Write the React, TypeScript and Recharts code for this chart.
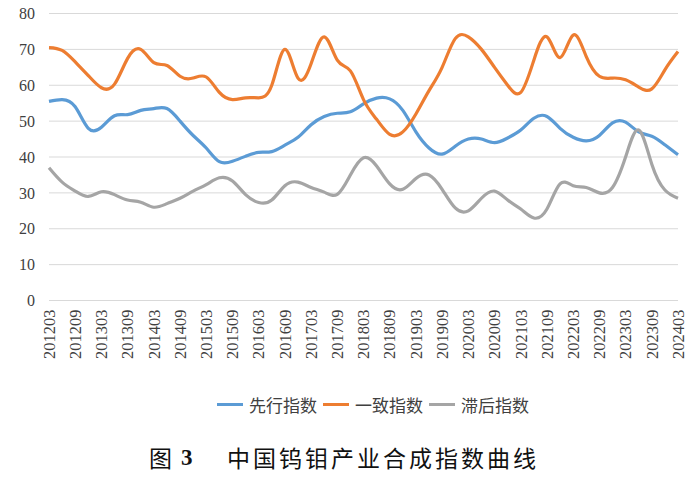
import { LineChart, Line, XAxis, YAxis, CartesianGrid } from 'recharts';

// quarterly points, labels shown every 6 months
const PERIODS = [
  '201203', '201206', '201209', '201212', '201303', '201306', '201309', '201312',
  '201403', '201406', '201409', '201412', '201503', '201506', '201509', '201512',
  '201603', '201606', '201609', '201612', '201703', '201706', '201709', '201712',
  '201803', '201806', '201809', '201812', '201903', '201906', '201909', '201912',
  '202003', '202006', '202009', '202012', '202103', '202106', '202109', '202112',
  '202203', '202206', '202209', '202212', '202303', '202306', '202309', '202312',
  '202403',
];

const LEADING = [
  55.5, 56, 54, 48, 48.3, 51.5, 51.8, 53, 53.5, 53.5, 50, 46, 42.5, 38.7, 38.8, 40.2,
  41.3, 41.5, 43.3, 45.5, 49, 51.3, 52.2, 52.6, 54.8, 56.4, 56.2, 53, 47, 42.5, 40.8, 43,
  45, 45, 44, 45.3, 47.5, 50.8, 51.3, 48, 45.5, 44.5, 46, 49.5, 49.7, 47, 45.8, 43.4,
  40.6,
];

const COINCIDENT = [
  70.5, 69.7, 66.5, 62.7, 59.3, 60.3, 67.5, 70, 66.3, 65.5, 62.5, 62, 62.3, 58, 56, 56.5,
  56.5, 60, 70, 62, 66, 73.5, 67, 64, 56, 50.5, 46.3, 47, 52, 58.5, 65, 73,
  73.5, 70, 65, 60, 58, 67, 73.5, 67.7, 74, 68, 62.5, 62, 61.5, 59.5, 59, 64.3,
  69.4,
];

const LAGGING = [
  37, 33, 30.5, 29, 30.3, 29.5, 28, 27.4, 26, 27, 28.5, 30.5, 32.3, 34.2, 33.3, 29.5,
  27.3, 28, 32, 33, 31.5, 30.2, 29.6, 35, 39.8, 37.5, 32.5, 31, 34, 35, 31, 25.8,
  25, 28.5, 30.5, 28, 25.5, 23, 25.5, 32.5, 32, 31.5, 30, 31.5, 40, 47.5, 38, 30.8,
  28.5,
];

const Y_TICKS = [0, 10, 20, 30, 40, 50, 60, 70, 80];

const SERIES = [
  { key: 'leading', name: '先行指数', color: '#5B9BD5' },
  { key: 'coincident', name: '一致指数', color: '#ED7D31' },
  { key: 'lagging', name: '滞后指数', color: '#A5A5A5' },
];

const data = PERIODS.map((period, i) => ({
  period,
  leading: LEADING[i],
  coincident: COINCIDENT[i],
  lagging: LAGGING[i],
}));

const SERIF = '"Liberation Serif", "DejaVu Serif", serif';
const CJK = '"Noto Sans CJK SC", "Noto Sans", sans-serif';

function RotatedTick({ x, y, payload }: any) {
  return (
    <text
      x={x}
      y={y}
      transform={`rotate(-90, ${x}, ${y})`}
      textAnchor="end"
      dy="0.35em"
      fontSize={16.5}
      fontFamily={SERIF}
      fill="#404040"
    >
      {payload.value}
    </text>
  );
}

export default function App() {
  return (
    <div style={{ position: 'absolute', left: 0, top: 0, width: 700, height: 483, background: '#fff', overflow: 'hidden' }}>
      <LineChart width={700} height={370} data={data} margin={{ top: 13.5, right: 22, left: 0, bottom: 5 }}>
        <CartesianGrid vertical={false} stroke="#d9d9d9" strokeWidth={1} />
        <XAxis
          dataKey="period"
          interval={1}
          tickLine={false}
          axisLine={false}
          height={64.5}
          tick={<RotatedTick />}
          tickMargin={3}
        />
        <YAxis
          domain={[0, 80]}
          ticks={Y_TICKS}
          width={49}
          tickLine={false}
          axisLine={false}
          tickMargin={8}
          tick={{ fontSize: 16, fontFamily: SERIF, fill: '#404040' }}
        />
        {SERIES.map((s) => (
          <Line
            key={s.key}
            type="natural"
            dataKey={s.key}
            name={s.name}
            stroke={s.color}
            strokeWidth={3.2}
            dot={false}
            isAnimationActive={false}
          />
        ))}
      </LineChart>

      {/* legend */}
      <div style={{ position: 'absolute', left: 217, top: 396, display: 'flex', alignItems: 'center', fontFamily: CJK, fontSize: 17, lineHeight: '17px', color: '#404040' }}>
        {SERIES.map((s) => (
          <div key={s.key} style={{ display: 'flex', alignItems: 'center', marginRight: 6 }}>
            <div style={{ width: 26, height: 3, background: s.color, marginRight: 6 }} />
            <span>{s.name}</span>
          </div>
        ))}
      </div>

      {/* caption */}
      <div style={{ position: 'absolute', left: 149, top: 446, fontFamily: CJK, fontSize: 23, lineHeight: '23px', color: '#111' }}>图</div>
      <div style={{ position: 'absolute', left: 181, top: 446, fontFamily: SERIF, fontWeight: 'bold', fontSize: 23, lineHeight: '23px', color: '#111' }}>3</div>
      <div style={{ position: 'absolute', left: 227, top: 446, fontFamily: CJK, fontSize: 23, lineHeight: '23px', letterSpacing: 3, color: '#111', whiteSpace: 'nowrap' }}>
        中国钨钼产业合成指数曲线
      </div>
    </div>
  );
}
